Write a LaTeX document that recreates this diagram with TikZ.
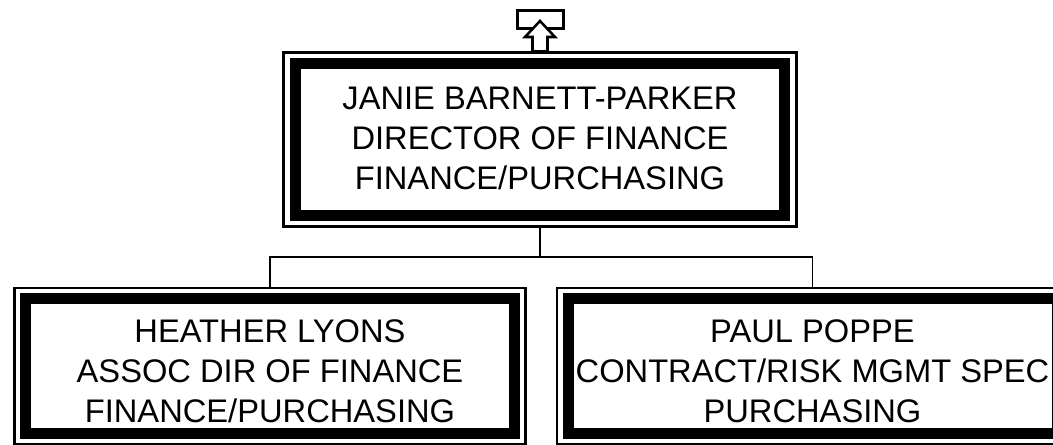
\documentclass[tikz,border=0pt]{standalone}
\usepackage{fontspec}
\setmainfont{Liberation Sans}
\begin{document}
\begin{tikzpicture}[x=0.75pt,y=-0.75pt,
  thickbox/.style={draw=black, line width=8.25pt, inner sep=0pt},
  txt/.style={inner sep=0pt, align=center, font=\fontsize{24.5pt}{30pt}\selectfont},
  thinbox/.style={draw=black, line width=1.9pt, inner sep=0pt},
  conn/.style={draw=black, line width=1.2pt},
  upmark/.style={draw=black, line width=1.9pt, fill=white, line join=miter}]
\useasboundingbox (0,0) rectangle (1053,445);
% top box
\node[thickbox, minimum width=367.1pt, minimum height=114pt] (top) at (540,139.5) {};
\node[thinbox, minimum width=384.4pt, minimum height=130.5pt] (topo) at (top.center) {};
\node[txt] (toptext) at ([yshift=0.75pt]top.center)
  {JANIE BARNETT-PARKER\\DIRECTOR OF FINANCE\\FINANCE/PURCHASING};
% bottom boxes
\node[thickbox, minimum width=366.75pt, minimum height=100.5pt] (left) at (270,366) {};
\node[thinbox, minimum width=383.25pt, minimum height=117pt] (lefto) at (left.center) {};
\node[txt] (lefttext) at ([yshift=-4pt]left.center)
  {HEATHER LYONS\\ASSOC DIR OF FINANCE\\FINANCE/PURCHASING};
\node[thickbox, minimum width=366.75pt, minimum height=100.5pt] (right) at (812.5,366) {};
\node[thinbox, minimum width=383.25pt, minimum height=117pt] (righto) at (right.center) {};
\node[txt] (righttext) at ([yshift=-4pt]right.center)
  {PAUL POPPE\\CONTRACT/RISK MGMT SPEC\\PURCHASING};
% connectors
\coordinate (bus) at (540,257);
\draw[conn] (topo.south) -- (topo.south |- bus);
\draw[conn] (topo.south |- bus) -| (lefto.north);
\draw[conn] (topo.south |- bus) -| (righto.north);
% up marker
\node[draw=black, line width=1.9pt, minimum width=34.5pt, minimum height=13.8pt, inner sep=0pt] (upbox) at (540.3,19.5) {};
\draw[upmark] (540,21) -- (555,37) -- (547.5,37) -- (547.5,51.5) -- (532.5,51.5) -- (532.5,37) -- (525,37) -- cycle;
\end{tikzpicture}
\end{document}
